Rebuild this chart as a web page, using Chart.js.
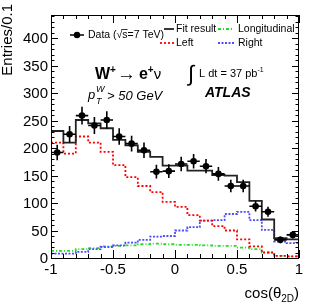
<!doctype html>
<html>
<head>
  <title>cos theta 2D, W+ to e+ nu</title>
  <script src="https://cdn.jsdelivr.net/npm/chart.js@4.4.0/dist/chart.umd.min.js"></script>
  <style>
    body { margin: 0; background: #fff; }
  </style>
</head>
<body>
  <canvas id="canvas" width="316" height="308"></canvas>

  <script>
    // bins of width 0.1 in cos(theta_2D)
    var binEdges = [-1, -0.9, -0.8, -0.7, -0.6, -0.5, -0.4, -0.3, -0.2, -0.1, 0,
                    0.1, 0.2, 0.3, 0.4, 0.5, 0.6, 0.7, 0.8, 0.9, 1];
    var binCenters = [-0.95, -0.85, -0.75, -0.65, -0.55, -0.45, -0.35, -0.25, -0.15, -0.05,
                      0.05, 0.15, 0.25, 0.35, 0.45, 0.55, 0.65, 0.75, 0.85, 0.95];

    var dataValues = [192, 225, 259, 241, 251, 221, 208, 196, 157, 158,
                      171, 176, 167, 153, 131, 131, 94, 84, 33, 42];
    var dataErrors = [14, 15, 16, 15.5, 16, 15, 14.5, 14, 12.5, 12.5,
                      13, 13, 13, 12.5, 11.5, 11.5, 9.5, 9, 6, 6.5];
    var fitValues = [231, 210, 251, 245, 236, 215, 205, 193, 184, 168,
                     168, 159, 159, 151, 150, 138, 104, 70, 36, 34];
    var leftValues = [210, 190, 221, 210, 193, 169, 147, 131, 120, 102,
                      93, 78, 68, 58, 50, 34, 21, 10, 4, 3];
    var rightValues = [8, 8, 11, 16, 20, 23, 28, 33, 39, 40,
                       50, 56, 68, 69, 80, 84, 69, 51, 30, 27];
    var longValues = [13, 13, 16, 18, 21, 22, 23, 25, 26, 25,
                      24, 24, 23, 22, 22, 19, 16, 10, 4, 3];

    var yTicks = [0, 50, 100, 150, 200, 250, 300, 350, 400];
    var xTicks = [-1, -0.5, 0, 0.5, 1];
    var xTickLabels = ['-1', '-0.5', '0', '0.5', '1'];

    var FONT = '"Liberation Sans", Arial, sans-serif';

    // histogram outline: one point per left edge, last value repeated at x=1
    function stepPoints(values) {
      return binEdges.map(function (e, i) {
        return { x: e, y: values[Math.min(i, values.length - 1)] };
      });
    }

    function drawRuns(ctx, x, y, runs) {
      runs.forEach(function (r) {
        ctx.font = r.font;
        ctx.fillText(r.t, x, y + (r.dy || 0));
        x += ctx.measureText(r.t).width + (r.gap || 0);
      });
      return x;
    }

    function runsWidth(ctx, runs) {
      var w = 0;
      runs.forEach(function (r) {
        ctx.font = r.font;
        w += ctx.measureText(r.t).width + (r.gap || 0);
      });
      return w;
    }

    var errorBars = {
      id: 'errorBars',
      afterDatasetsDraw: function (chart) {
        var ctx = chart.ctx, xs = chart.scales.x, ys = chart.scales.y;
        ctx.save();
        ctx.strokeStyle = '#000';
        ctx.lineWidth = 1.6;
        binCenters.forEach(function (c, i) {
          var px = xs.getPixelForValue(c);
          var py = ys.getPixelForValue(dataValues[i]);
          ctx.beginPath();
          ctx.moveTo(xs.getPixelForValue(c - 0.05), py);
          ctx.lineTo(xs.getPixelForValue(c + 0.05), py);
          ctx.moveTo(px, ys.getPixelForValue(dataValues[i] - dataErrors[i]));
          ctx.lineTo(px, ys.getPixelForValue(dataValues[i] + dataErrors[i]));
          ctx.stroke();
        });
        ctx.restore();
      }
    };

    var frame = {
      id: 'frame',
      afterDraw: function (chart) {
        var ctx = chart.ctx, a = chart.chartArea;
        var xs = chart.scales.x, ys = chart.scales.y;
        ctx.save();
        ctx.strokeStyle = '#000';
        ctx.lineWidth = 1;
        ctx.strokeRect(a.left + 0.5, a.top + 0.5, a.right - a.left - 1, a.bottom - a.top);

        // y ticks, inward on both sides
        ctx.beginPath();
        for (var v = 0; v <= 440; v += 10) {
          var py = Math.round(ys.getPixelForValue(v)) + 0.5;
          var len = (v % 50 === 0) ? 7 : 3.5;
          ctx.moveTo(a.left, py); ctx.lineTo(a.left + len, py);
          ctx.moveTo(a.right, py); ctx.lineTo(a.right - len, py);
        }
        // x ticks, inward on both sides
        for (var k = 0; k <= 20; k++) {
          var xv = -1 + k * 0.1;
          var px = Math.round(xs.getPixelForValue(xv)) + 0.5;
          var l = (k % 5 === 0) ? 8 : 4;
          ctx.moveTo(px, a.bottom); ctx.lineTo(px, a.bottom - l);
          ctx.moveTo(px, a.top); ctx.lineTo(px, a.top + l);
        }
        ctx.stroke();

        ctx.fillStyle = '#000';
        ctx.font = '15px ' + FONT;
        ctx.textAlign = 'right';
        ctx.textBaseline = 'middle';
        yTicks.forEach(function (t) {
          ctx.fillText(String(t), a.left - 3, ys.getPixelForValue(t) + 1);
        });
        ctx.textAlign = 'center';
        ctx.textBaseline = 'top';
        xTicks.forEach(function (t, i) {
          ctx.fillText(xTickLabels[i], xs.getPixelForValue(t), a.bottom + 4);
        });

        // axis titles
        ctx.save();
        ctx.translate(12, 4);
        ctx.rotate(-Math.PI / 2);
        ctx.textAlign = 'right';
        ctx.textBaseline = 'alphabetic';
        ctx.fillText('Entries/0.1', 0, 0);
        ctx.restore();

        ctx.textAlign = 'left';
        ctx.textBaseline = 'alphabetic';
        var xt = [
          { t: 'cos(\u03b8', font: '15px ' + FONT },
          { t: '2D', font: '10px ' + FONT, dy: 4 },
          { t: ')', font: '15px ' + FONT }
        ];
        drawRuns(ctx, a.right - runsWidth(ctx, xt), 298, xt);

        // legend
        ctx.font = '10.5px ' + FONT;
        ctx.textBaseline = 'middle';
        ctx.lineWidth = 1.5;
        ctx.beginPath(); ctx.moveTo(70, 35); ctx.lineTo(84, 35); ctx.stroke();
        ctx.beginPath(); ctx.arc(77, 35, 3.2, 0, Math.PI * 2); ctx.fill();
        var xe = drawRuns(ctx, 88, 35, [
          { t: 'Data (', font: '10.5px ' + FONT },
          { t: '\u221a', font: '10.5px ' + FONT }
        ]);
        ctx.font = '10.5px ' + FONT;
        var sw = ctx.measureText('s').width;
        ctx.lineWidth = 0.8;
        ctx.beginPath(); ctx.moveTo(xe - 1, 29.5); ctx.lineTo(xe + sw, 29.5); ctx.stroke();
        ctx.fillText('s=7 TeV)', xe, 35);

        var legendLines = [
          { x: 164, w: 10, tx: 176, y: 29, text: 'Fit result', color: '#222', dash: [] },
          { x: 218, w: 16, tx: 238, y: 29, text: 'Longitudinal', color: '#22dd22', dash: [3, 2, 1, 2] },
          { x: 160, w: 14, tx: 176, y: 43, text: 'Left', color: '#ff0000', dash: [2, 2] },
          { x: 218, w: 16, tx: 238, y: 43, text: 'Right', color: '#4d4dff', dash: [2, 1.5] }
        ];
        legendLines.forEach(function (e) {
          ctx.save();
          ctx.strokeStyle = e.color;
          ctx.lineWidth = 1.8;
          ctx.setLineDash(e.dash);
          ctx.beginPath(); ctx.moveTo(e.x, e.y); ctx.lineTo(e.x + e.w, e.y); ctx.stroke();
          ctx.restore();
          ctx.fillText(e.text, e.tx, e.y);
        });

        // labels
        ctx.textBaseline = 'alphabetic';
        drawRuns(ctx, 95, 79, [
          { t: 'W', font: 'bold 16px ' + FONT },
          { t: '+', font: 'bold 10px ' + FONT, dy: -6, gap: 1 },
          { t: '\u2192', font: '19px ' + FONT, dy: 1, gap: 3 },
          { t: 'e', font: 'bold 16px ' + FONT },
          { t: '+', font: 'bold 10px ' + FONT, dy: -6 },
          { t: '\u03bd', font: '15px ' + FONT }
        ]);
        ctx.font = 'italic 13px ' + FONT;
        ctx.fillText('p', 88, 99);
        ctx.font = 'italic 9px ' + FONT;
        ctx.fillText('W', 96, 92);
        ctx.fillText('T', 96, 104);
        ctx.font = 'italic 13px ' + FONT;
        ctx.fillText('> 50 GeV', 107, 100);

        ctx.font = '22px ' + FONT;
        ctx.fillText('\u222b', 188, 81);
        drawRuns(ctx, 199, 77, [
          { t: 'L dt = 37 pb', font: '11px ' + FONT },
          { t: '-1', font: '7px ' + FONT, dy: -5 }
        ]);
        ctx.font = 'bold italic 14px ' + FONT;
        ctx.fillText('ATLAS', 205, 97);
        ctx.restore();
      }
    };

    var stepStyle = { stepped: true, pointRadius: 0, fill: false, borderWidth: 1.8 };

    var chart = new Chart('canvas', {
      type: 'line',
      data: {
        datasets: [
          {
            label: 'Data',
            data: binCenters.map(function (c, i) { return { x: c, y: dataValues[i] }; }),
            showLine: false,
            pointRadius: 3.3,
            pointBackgroundColor: '#000',
            pointBorderWidth: 0
          },
          Object.assign({
            label: 'Fit result',
            data: stepPoints(fitValues),
            borderColor: '#222'
          }, stepStyle),
          Object.assign({
            label: 'Left',
            data: stepPoints(leftValues),
            borderColor: '#ff0000',
            borderDash: [2, 2]
          }, stepStyle),
          Object.assign({
            label: 'Right',
            data: stepPoints(rightValues),
            borderColor: '#4d4dff',
            borderDash: [2, 1.5]
          }, stepStyle),
          Object.assign({
            label: 'Longitudinal',
            data: stepPoints(longValues),
            borderColor: '#22dd22',
            borderDash: [3, 2, 1, 2]
          }, stepStyle)
        ]
      },
      options: {
        responsive: false,
        animation: false,
        layout: { padding: { left: 51, top: 15, right: 17, bottom: 50 } },
        plugins: { legend: { display: false }, tooltip: { enabled: false } },
        scales: {
          x: { type: 'linear', min: -1, max: 1, display: false },
          y: { min: 0, max: 442, display: false }
        }
      },
      plugins: [errorBars, frame]
    });
  </script>
</body>
</html>
